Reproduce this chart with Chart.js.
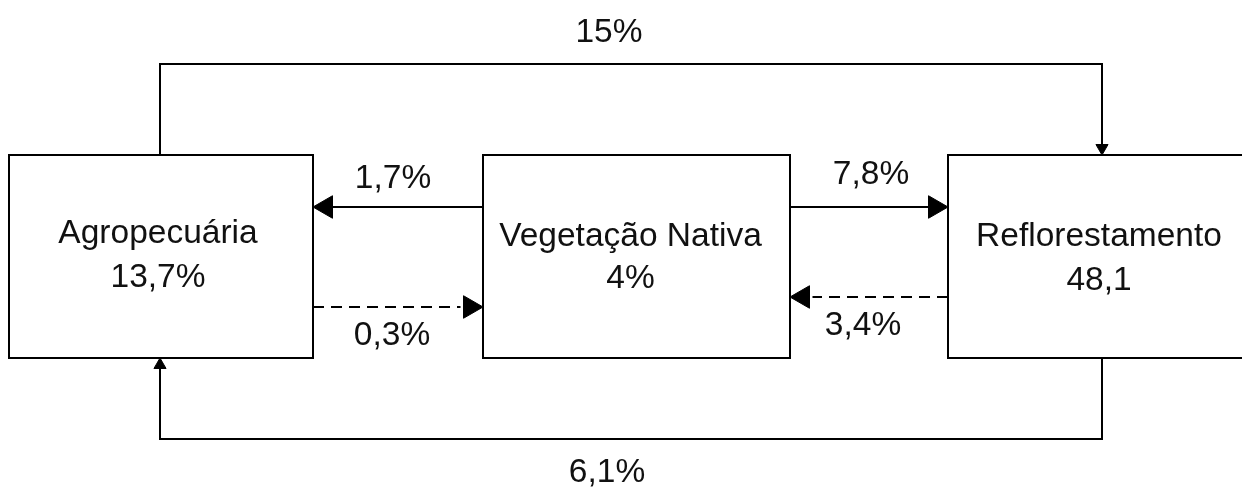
<!DOCTYPE html>
<html><head><meta charset="utf-8">
<script src="https://cdn.jsdelivr.net/npm/chart.js@4"></script>
<style>html,body{margin:0;padding:0;background:#fff;}canvas{display:block;}</style>
</head><body>
<canvas id="c" width="1242" height="490"></canvas>
<script>
// ---------- data ----------
const nodeNames  = ['Agropecuária', 'Vegetação Nativa', 'Reflorestamento'];
const nodeValues = [13.7, 4, 48.1];
const nodeUnits  = ['%', '%', ''];
const flowFrom   = [0, 1, 1, 0, 2, 2];
const flowTo     = [2, 0, 2, 1, 1, 0];
const flowValues = [15, 1.7, 7.8, 0.3, 3.4, 6.1];
const flowUnits  = ['%', '%', '%', '%', '%', '%'];

// ---------- layout / style (diagram units) ----------
const layout = {
  boxX: [[9, 313], [483, 790], [948, 1254]],
  boxTop: 155, boxBottom: 358,
  nameBaseline: [243, 246, 246],
  valueBaseline: [287, 288, 290],
  textShift: [-3, -6, -2],
  flows: [
    {route: 'over',     level: 64,  port: [160, 1102], dashed: false, label: [609, 42]},
    {route: 'straight', level: 207, dashed: false, label: [393, 188]},
    {route: 'straight', level: 207, dashed: false, label: [871, 184]},
    {route: 'straight', level: 307, dashed: true,  label: [392, 345]},
    {route: 'straight', level: 297, dashed: true,  label: [863, 335]},
    {route: 'under',    level: 439, port: [1102, 160], dashed: false, label: [607, 482]}
  ],
  bigHead: 13, smallHead: 7, dashGap: 3,
  font: '33.5px "Liberation Sans", Arial, sans-serif',
  ink: '#000', textInk: '#111'
};

const fmt = v => String(v).replace('.', ',');

// ---------- build datasets ----------
const datasets = [];
const lineBase = {
  showLine: true, pointRadius: 0, pointHoverRadius: 0, borderColor: layout.ink,
  borderWidth: 2, tension: 0, fill: false, borderJoinStyle: 'miter', borderCapStyle: 'butt'
};

nodeNames.forEach((n, i) => {
  const [x0, x1] = layout.boxX[i];
  const t = layout.boxTop, b = layout.boxBottom, m = (x0 + x1) / 2;
  datasets.push(Object.assign({}, lineBase, {
    label: n,
    data: [{x: m, y: t}, {x: x1, y: t}, {x: x1, y: b}, {x: x0, y: b}, {x: x0, y: t}, {x: m, y: t}]
  }));
});

const heads = [], headRot = [], headRad = [];
flowValues.forEach((v, k) => {
  const f = layout.flows[k];
  const s = flowFrom[k], d = flowTo[k];
  let pts = [];
  if (f.route === 'straight') {
    const goRight = layout.boxX[d][0] > layout.boxX[s][0];
    const sx = goRight ? layout.boxX[s][1] : layout.boxX[s][0];
    const tx = goRight ? layout.boxX[d][0] : layout.boxX[d][1];
    const dir = goRight ? 1 : -1;
    const r = layout.bigHead;
    const cx = tx - dir * r;
    const endX = f.dashed ? tx - dir * (1.5 * r + layout.dashGap) : cx;
    pts = [{x: sx, y: f.level}, {x: endX, y: f.level}];
    heads.push({x: cx, y: f.level}); headRot.push(goRight ? 90 : 270); headRad.push(r);
  } else {
    const over = f.route === 'over';
    const edge = over ? layout.boxTop : layout.boxBottom;
    const r = layout.smallHead;
    const cy = over ? edge - r : edge + r;
    pts = [{x: f.port[0], y: edge}, {x: f.port[0], y: f.level}, {x: f.port[1], y: f.level}, {x: f.port[1], y: cy}];
    heads.push({x: f.port[1], y: cy}); headRot.push(over ? 180 : 0); headRad.push(r);
  }
  datasets.push(Object.assign({}, lineBase, {
    label: 'flow' + k, data: pts, borderDash: f.dashed ? [11, 7] : []
  }));
});

datasets.push({
  label: 'heads', data: heads, showLine: false, pointStyle: 'triangle',
  rotation: headRot, pointRadius: headRad, pointHoverRadius: headRad,
  pointBackgroundColor: layout.ink, pointBorderColor: layout.ink, pointBorderWidth: 1
});

// ---------- text plugin ----------
const textPlugin = {
  id: 'diagramText',
  afterDatasetsDraw(chart) {
    const {ctx, scales: {x, y}} = chart;
    ctx.save();
    ctx.font = layout.font;
    ctx.fillStyle = layout.textInk;
    ctx.textAlign = 'center';
    ctx.textBaseline = 'alphabetic';
    nodeNames.forEach((n, i) => {
      const cx = (layout.boxX[i][0] + layout.boxX[i][1]) / 2 + layout.textShift[i];
      ctx.fillText(n, x.getPixelForValue(cx), y.getPixelForValue(layout.nameBaseline[i]));
      ctx.fillText(fmt(nodeValues[i]) + nodeUnits[i], x.getPixelForValue(cx), y.getPixelForValue(layout.valueBaseline[i]));
    });
    flowValues.forEach((v, k) => {
      const [lx, ly] = layout.flows[k].label;
      ctx.fillText(fmt(v) + flowUnits[k], x.getPixelForValue(lx), y.getPixelForValue(ly));
    });
    ctx.restore();
  }
};

new Chart(document.getElementById('c'), {
  type: 'scatter',
  data: {datasets},
  options: {
    responsive: false, animation: false, events: [], devicePixelRatio: 1,
    layout: {padding: 0, autoPadding: false},
    plugins: {legend: {display: false}, tooltip: {enabled: false}},
    scales: {
      x: {type: 'linear', min: 0, max: 1242, display: false},
      y: {type: 'linear', min: 0, max: 490, reverse: true, display: false}
    }
  },
  plugins: [textPlugin]
});
</script>
</body></html>
